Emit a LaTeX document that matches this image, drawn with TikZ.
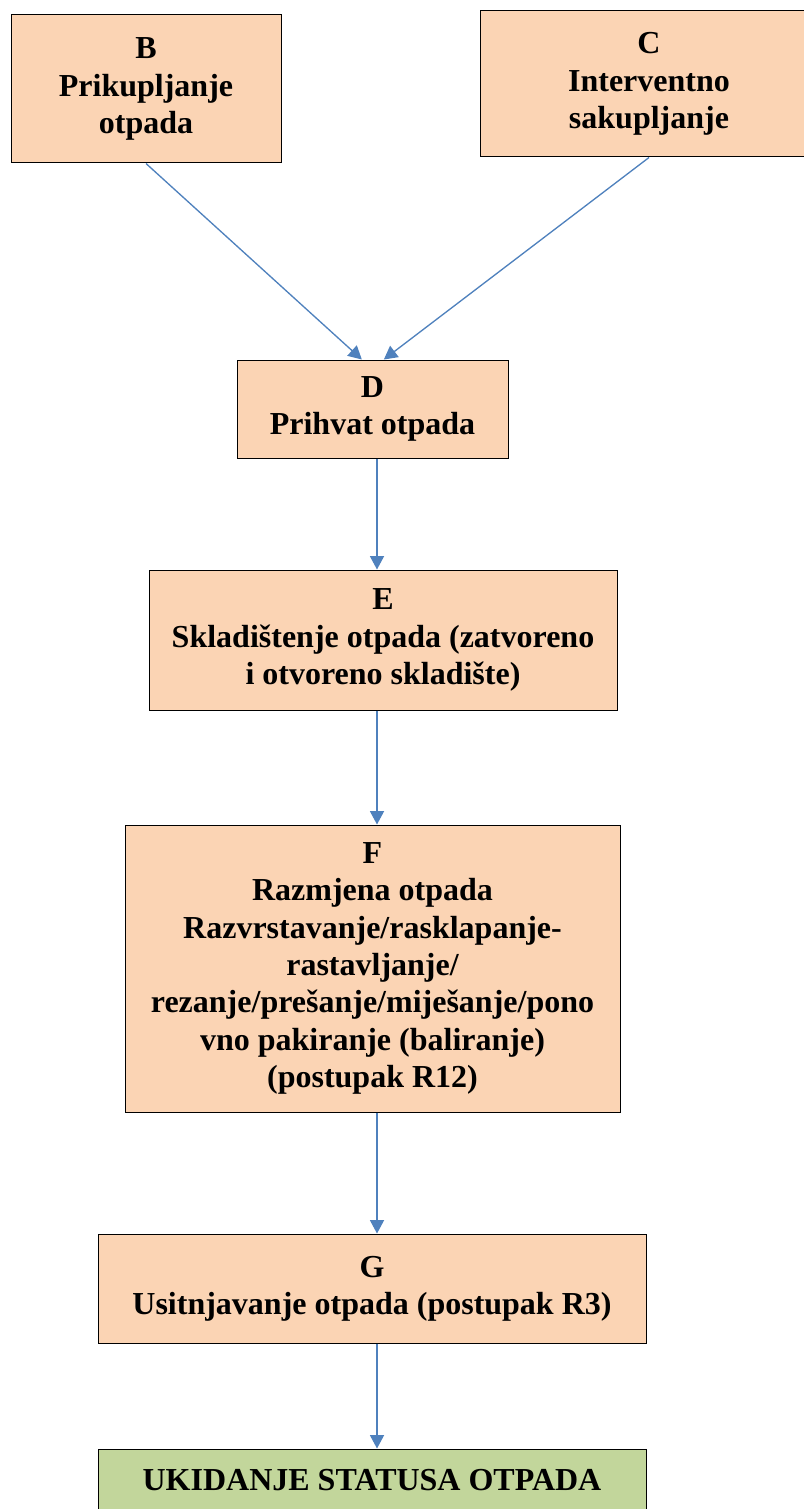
\documentclass[tikz,border=0pt]{standalone}
\usepackage{fontspec}
\setmainfont{Liberation Serif}
\usepackage{tikz}
\usetikzlibrary{arrows.meta}
\definecolor{breskva}{HTML}{FBD4B4}
\definecolor{maslina}{HTML}{C2D69B}
\definecolor{strelica}{HTML}{4F81BD}

\begin{document}
\begin{tikzpicture}[x=0.75pt, y=-0.75pt,
				   every node/.style={rectangle, draw=black, line width=0.75pt, fill=breskva, align=center, inner sep=0pt, font=\fontsize{24}{28}\selectfont\bfseries},
				   tok/.style={-{Triangle[length=10pt, width=10.5pt]}, strelica, line width=1pt}]
\useasboundingbox (0,0) rectangle (803,1509);
\coordinate (os) at (377,0);
\node[minimum width=202.5pt, minimum height=111pt] (B) at (146,89) {B\\Prikupljanje\\otpada};
\node[minimum width=253.5pt, minimum height=109.5pt] (C) at (649,84) {C\\Interventno\\sakupljanje};
\node[minimum width=203.25pt, minimum height=73.5pt] (D) at (372.5,409) {D\\Prihvat otpada};
\node[minimum width=351pt, minimum height=105pt] (E) at (383,640) {E\\Skladištenje otpada (zatvoreno\\i otvoreno skladište)};
\node[minimum width=371.25pt, minimum height=215.25pt] (F) at (372.5,968.5) {F\\Razmjena otpada\\Razvrstavanje/rasklapanje-\\rastavljanje/\\rezanje/prešanje/miješanje/pono\\vno pakiranje (baliranje)\\(postupak R12)};
\node[minimum width=411pt, minimum height=81.75pt] (G) at (372,1288.5) {G\\Usitnjavanje otpada (postupak R3)};
\node[fill=maslina, minimum width=411pt, minimum height=47.25pt] (kraj) at (372,1480.5) {UKIDANJE STATUSA OTPADA};
\draw[tok] (B.south) -- ([xshift=-8pt]D.north);
\draw[tok] (C.south) -- ([xshift=8.5pt]D.north);
\draw[tok] (D.south -| os) -- (E.north -| os);
\draw[tok] (E.south -| os) -- (F.north -| os);
\draw[tok] (F.south -| os) -- (G.north -| os);
\draw[tok] (G.south -| os) -- (kraj.north -| os);
\end{tikzpicture}
\end{document}
